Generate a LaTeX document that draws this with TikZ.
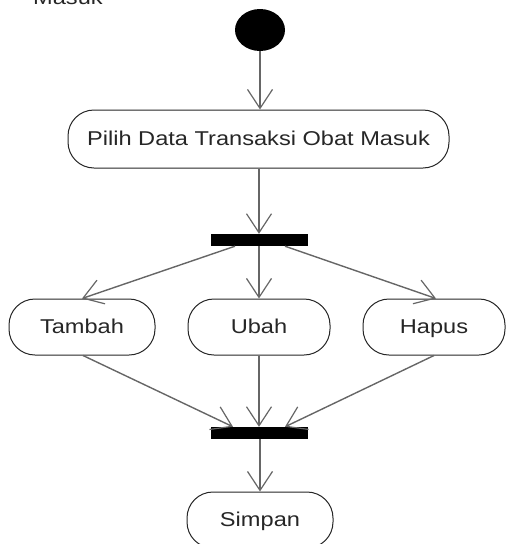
\documentclass[tikz,border=0pt]{standalone}
\usepackage{fontspec}
\setmainfont[FakeStretch=1.18]{Liberation Sans}
\usetikzlibrary{arrows.meta,shapes.geometric}
\begin{document}
\begin{tikzpicture}[x=1pt,y=-1pt,
  activity/.style={draw=black!85,line width=1pt,rounded corners=26pt,
    minimum height=56pt,inner sep=0pt,text height=15pt,text depth=3pt,
    font=\fontsize{20}{24}\selectfont,text=black!85},
  forkbar/.style={fill=black,draw=none,minimum width=97pt,minimum height=12pt,inner sep=0pt},
  flow/.style={draw=black!60,line width=1.4pt,
    -{Straight Barb[length=19pt,width=25pt,line width=1.2pt]}},
]
\useasboundingbox (0,0) rectangle (507,544);
\clip (0,0) rectangle (507,544);

% caption fragment running off the top edge
\node[anchor=base west,inner sep=0pt,font=\fontsize{20}{24}\selectfont,text=black!85] (cap) at (33,4) {Masuk};

% initial state
\node[ellipse,fill=black,minimum width=50pt,minimum height=42pt,inner sep=0pt] (start) at (260,30) {};

% activities and synchronisation bars
\node[activity,minimum width=381pt,minimum height=58pt] (pilih) at (258.5,139) {Pilih Data Transaksi Obat Masuk};
\node[forkbar] (fork) at (259,240) {};
\node[activity,minimum width=146pt] (tambah) at (82,327) {Tambah};
\node[activity,minimum width=142pt] (ubah) at (259,327) {Ubah};
\node[activity,minimum width=142pt] (hapus) at (434,327) {Hapus};
\node[forkbar] (join) at (259,433) {};
\node[activity,minimum width=146pt] (simpan) at (260,520) {Simpan};

% control flows
\draw[flow] (start.south) -- (start.south |- pilih.north);
\draw[flow] (pilih.south -| fork.north) -- (fork.north);
\draw[flow] ([xshift=-24pt]fork.south) -- (tambah.north);
\draw[flow] (fork.south) -- (ubah.north);
\draw[flow] ([xshift=26pt]fork.south) -- ([xshift=2pt]hapus.north);
\draw[flow] ([xshift=1pt]tambah.south) -- ([xshift=-26pt]join.north);
\draw[flow] (ubah.south) -- (join.north);
\draw[flow] (hapus.south) -- ([xshift=26pt]join.north);
\draw[flow] (join.south) -- (join.south -| simpan.north) -- (simpan.north);
\end{tikzpicture}
\end{document}
